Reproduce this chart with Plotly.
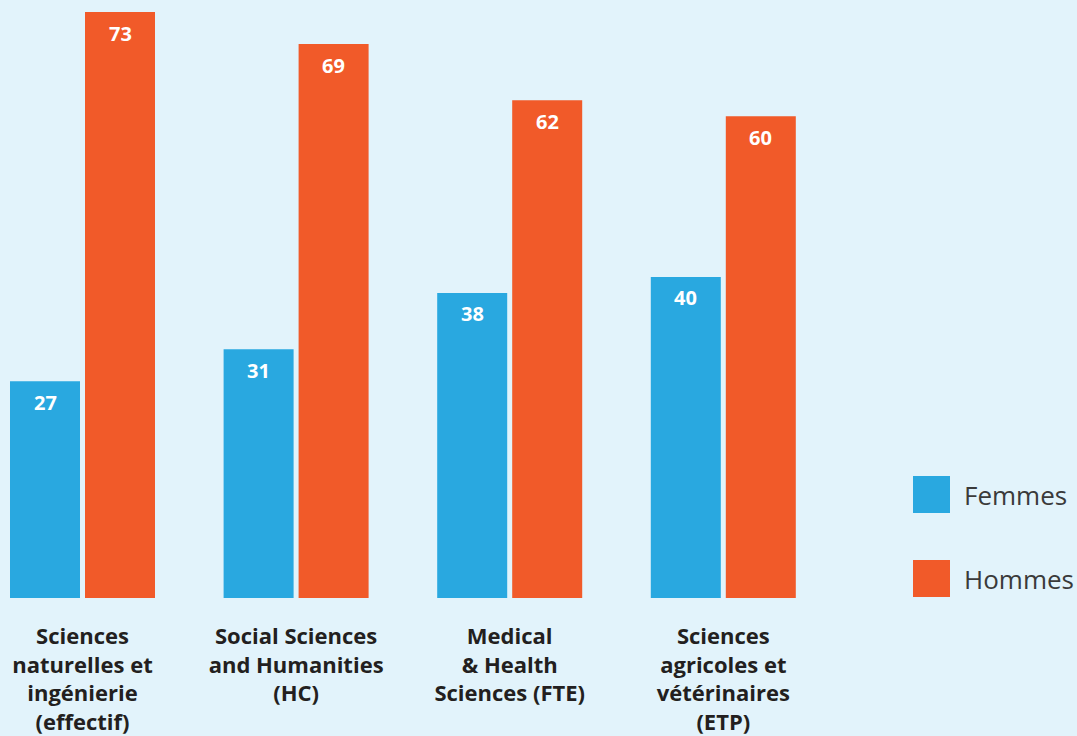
import plotly.graph_objects as go

categories = [
    "Sciences<br>naturelles et<br>ingénierie<br>(effectif)",
    "Social Sciences<br>and Humanities<br>(HC)",
    "Medical<br>& Health<br>Sciences (FTE)",
    "Sciences<br>agricoles et<br>vétérinaires<br>(ETP)",
]
femmes = [27, 31, 38, 40]
hommes = [73, 69, 62, 60]
series_names = ["Femmes", "Hommes"]
colors = ["#29A8E0", "#F15A29"]

W, H = 1077, 736
SLOT = 213.6
BARGAP = 1 - 150 / SLOT
BARGROUPGAP = 5 / 75
xs = list(range(len(categories)))

fig = go.Figure()
for name, vals, col in zip(series_names, [femmes, hommes], colors):
    fig.add_trace(go.Bar(x=xs, y=vals, name=name, marker=dict(color=col, line=dict(width=0)),
                         showlegend=False))

# value labels inside top of bars
off = (1 - BARGAP) / 4
for k, vals in enumerate([femmes, hommes]):
    sign = -1 if k == 0 else 1
    for i, v in enumerate(vals):
        fig.add_annotation(x=xs[i] + sign * off, y=v, xref="x", yref="y", text=f"<b>{v}</b>",
                           showarrow=False, yanchor="middle", yshift=-21,
                           font=dict(family="Open Sans", size=20, color="white"))

# custom legend (large squares)
legend_items = [(series_names[0], colors[0], 476), (series_names[1], colors[1], 560)]
plot_h = 598
for name, col, top in legend_items:
    fig.add_shape(type="rect", xref="paper", yref="paper",
                  x0=913 / W, x1=950 / W, y0=(plot_h - top - 37) / plot_h, y1=(plot_h - top) / plot_h,
                  fillcolor=col, line=dict(width=0))
    fig.add_annotation(xref="paper", yref="paper", x=962 / W, y=(plot_h - top - 19) / plot_h,
                       text=name, showarrow=False, xanchor="left", yanchor="middle",
                       font=dict(family="Open Sans", size=26, color="#3A3A3A"))

fig.update_layout(
    width=W, height=H,
    margin=dict(l=0, r=0, t=0, b=H - plot_h, autoexpand=False),
    paper_bgcolor="#E2F3FB", plot_bgcolor="rgba(0,0,0,0)",
    barmode="group", bargap=BARGAP, bargroupgap=BARGROUPGAP,
    xaxis=dict(range=[-82.5 / SLOT, -82.5 / SLOT + W / SLOT], tickvals=xs, ticktext=categories,
               showgrid=False, zeroline=False, showline=False, ticks="", automargin=False,
               tickfont=dict(family="Open Sans", size=22, color="#231F20", weight="bold"),
               ticklabelstandoff=23),
    yaxis=dict(range=[0, plot_h / (586 / 73)], visible=False, showgrid=False, automargin=False),
)

fig.write_html("out.html")
